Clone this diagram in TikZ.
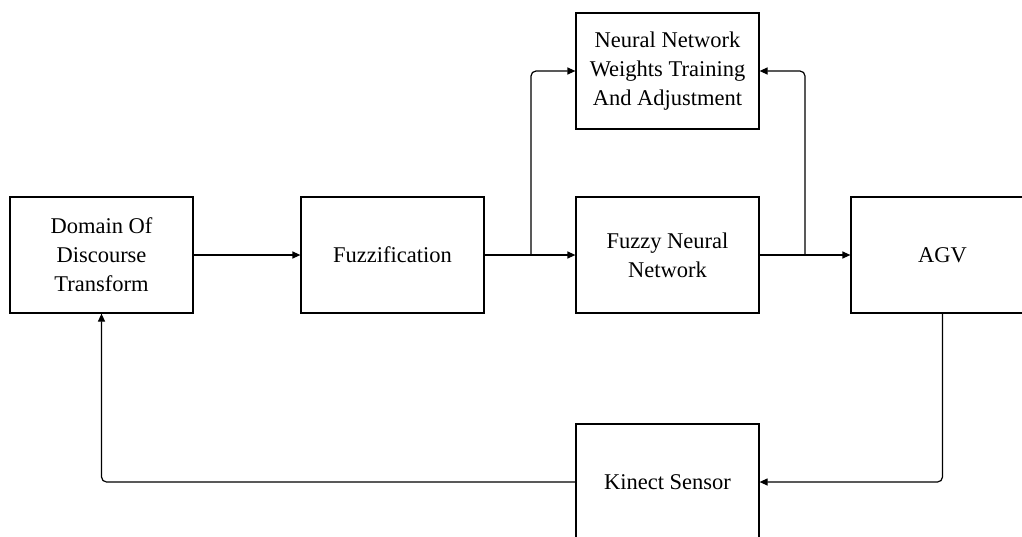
\documentclass[tikz,border=0pt]{standalone}
\usepackage{fontspec}
\setmainfont{Liberation Serif}
\usetikzlibrary{arrows.meta}
\begin{document}
\begin{tikzpicture}[x=1pt,y=-1pt,
  blockbox/.style={draw, line width=1.2pt, minimum width=183pt, minimum height=116pt, inner sep=0pt, align=center, font=\fontsize{22.5}{29}\selectfont},
  conn/.style={line width=1.2pt, -{Triangle[length=8pt,width=7pt]}, rounded corners=5pt},
  plainline/.style={line width=1.2pt}]
\useasboundingbox (0,0) rectangle (1022,536);
\clip (0,0) rectangle (1022,536);
\node[blockbox] (dom) at (101.5,255) {Domain Of\\Discourse\\Transform};
\node[blockbox] (fuz) at (392.5,255) {Fuzzification};
\node[blockbox] (fnn) at (667.5,255) {Fuzzy Neural\\Network};
\node[blockbox, minimum height=116pt] (nnw) at (667.5,71) {Neural Network\\Weights Training\\And Adjustment};
\node[blockbox] (agv) at (942.5,255) {AGV};
\node[blockbox] (kin) at (667.5,482) {Kinect Sensor};
\coordinate (b1) at (531,255);
\coordinate (b2) at (805,255);
\draw[conn] (dom.east) -- (fuz.west);
\draw[conn] (fuz.east) -- (fnn.west);
\draw[conn] (b1) |- (nnw.west);
\draw[conn] (fnn.east) -- (agv.west);
\draw[conn] (b2) |- (nnw.east);
\draw[conn] (agv.south) |- (kin.east);
\draw[conn] (kin.west) -| (dom.south);
\end{tikzpicture}
\end{document}
